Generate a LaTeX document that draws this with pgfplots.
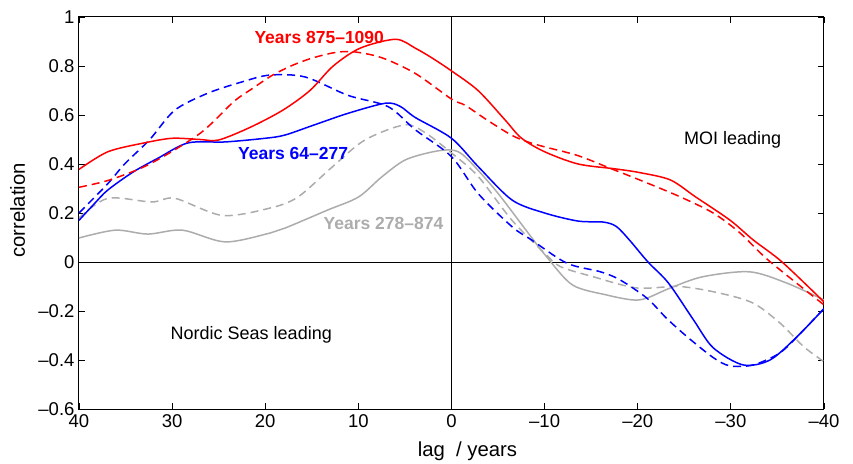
\documentclass[border=0pt]{standalone}
\usepackage{fontspec}
\setmainfont{Liberation Sans}
\usepackage{pgfplots}
\pgfplotsset{compat=1.18}
\definecolor{gr}{RGB}{172,172,172}
\begin{document}
\begin{tikzpicture}[font=\fontsize{18}{22}\selectfont]
\path[use as bounding box] (-79pt,-54pt) rectangle (774pt,409pt);
\begin{axis}[at={(0,0)}, anchor=south west, scale only axis,
  width=745pt, height=392pt,
  xmin=-40, xmax=40, ymin=-0.6, ymax=1, x dir=reverse,
  xtick={-40,-30,-20,-10,0,10,20,30,40},
  xticklabels={\textendash40,\textendash30,\textendash20,\textendash10,0,10,20,30,40},
  ytick={-0.6,-0.4,-0.2,0,0.2,0.4,0.6,0.8,1},
  yticklabels={\textendash0.6,\textendash0.4,\textendash0.2,0,0.2,0.4,0.6,0.8,1},
  tick label style={font=\fontsize{18.5}{22}\selectfont},
  tick align=inside, major tick length=6pt,
  tick style={black, line width=0.8pt},
  axis line style={line width=1pt},
  xticklabel style={yshift=-2pt},
  yticklabel style={xshift=-1pt},
  every axis plot/.append style={line width=1.5pt, smooth, tension=0.5},
  sol/.style={solid},
  das/.style={dash pattern=on 8pt off 5pt},
]
\addplot[black, line width=0.8pt, sharp plot] coordinates {(40,0) (-40,0)};
\addplot[black, line width=0.8pt, sharp plot] coordinates {(0,-0.6) (0,1)};
% grey solid
\addplot[gr, sol] coordinates {(40,0.098) (36.1,0.13) (32.6,0.114) (28.9,0.13) (24.3,0.082) (19.5,0.118) (17.9,0.138) (13.3,0.212) (10,0.265) (7.5,0.347) (5,0.416) (2.1,0.449) (0,0.457) (-1.45,0.43) (-4.7,0.294) (-8,0.13) (-10.2,0.022) (-13,-0.094) (-16.7,-0.135) (-19.5,-0.155) (-21,-0.147) (-23.5,-0.106) (-27,-0.06) (-32,-0.04) (-36,-0.086) (-40,-0.155)};
% grey dashed
\addplot[gr, das] coordinates {(40,0.18) (36.9,0.26) (32.2,0.245) (29.7,0.26) (24.6,0.19) (19.5,0.22) (16.5,0.265) (12.8,0.388) (9.3,0.498) (5,0.56) (2.8,0.527) (0,0.445) (-2.85,0.35) (-6.5,0.17) (-10,0.036) (-11.7,-0.019) (-15.2,-0.06) (-19.9,-0.106) (-24.5,-0.10) (-28.8,-0.127) (-32.4,-0.168) (-35.3,-0.25) (-37.8,-0.345) (-40,-0.407)};
% blue solid
\addplot[blue, sol] coordinates {(40,0.17) (38.3,0.24) (36.9,0.294) (34.2,0.367) (31.5,0.424) (28.3,0.486) (24.3,0.49) (20,0.505) (17.9,0.518) (14.7,0.56) (11.1,0.607) (7.1,0.648) (5.5,0.635) (3.9,0.59) (0,0.505) (-2.85,0.39) (-6.5,0.253) (-10,0.20) (-13.6,0.167) (-16.3,0.163) (-17.7,0.145) (-19.1,0.09) (-21.1,0.0) (-23.3,-0.086) (-26,-0.237) (-28.1,-0.35) (-31.3,-0.42) (-34.2,-0.40) (-37.1,-0.305) (-40,-0.19)};
% blue dashed
\addplot[blue, das] coordinates {(40,0.20) (36.9,0.32) (35.1,0.40) (32.4,0.50) (29.7,0.62) (26.1,0.69) (22.5,0.735) (19.5,0.763) (15.7,0.755) (11.1,0.68) (6.8,0.634) (3.9,0.54) (0,0.43) (-2.85,0.28) (-6.5,0.144) (-8.6,0.09) (-12.4,-0.005) (-16,-0.04) (-18.1,-0.073) (-21,-0.148) (-23.1,-0.23) (-25.3,-0.305) (-28.1,-0.39) (-29.9,-0.424) (-32.4,-0.42) (-35.3,-0.37) (-37.8,-0.278) (-40,-0.19)};
% red solid
\addplot[red, sol] coordinates {(40,0.378) (36.9,0.45) (33,0.486) (30,0.505) (27,0.50) (25,0.498) (21.6,0.55) (18.1,0.62) (15.2,0.70) (12.7,0.80) (9.8,0.873) (6.0,0.909) (3.9,0.873) (2.1,0.833) (0,0.78) (-2.85,0.70) (-5.75,0.58) (-7.5,0.506) (-10,0.45) (-13.6,0.40) (-17.6,0.38) (-20.2,0.365) (-23.5,0.335) (-26.2,0.266) (-29.9,0.171) (-32.4,0.09) (-35.5,0.0) (-40,-0.163)};
% red dashed
\addplot[red, das] coordinates {(40,0.305) (36.7,0.335) (32.4,0.40) (27,0.525) (23.4,0.654) (21.3,0.71) (19.2,0.763) (17,0.804) (14.9,0.833) (12.5,0.855) (10.5,0.858) (7.5,0.834) (3.9,0.77) (0,0.665) (-1.45,0.64) (-3.8,0.58) (-6.43,0.518) (-8.2,0.49) (-10,0.47) (-13.6,0.434) (-17.2,0.38) (-20.2,0.335) (-24.5,0.267) (-28.1,0.2) (-31,0.118) (-34,0.008) (-40,-0.175)};
\node[anchor=base, text=red, font=\bfseries\fontsize{17.5}{21}\selectfont] at (axis cs:14.2,0.893) {Years 875\textendash1090};
\node[anchor=base, text=blue, font=\bfseries\fontsize{17.5}{21}\selectfont] at (axis cs:17,0.419) {Years 64\textendash277};
\node[anchor=base, text=gr, font=\bfseries\fontsize{17.5}{21}\selectfont] at (axis cs:7.3,0.131) {Years 278\textendash874};
\node[anchor=base] at (axis cs:-30.2,0.48) {MOI leading};
\node[anchor=base] at (axis cs:21.5,-0.318) {Nordic Seas leading};
\end{axis}
\node[anchor=base, font=\fontsize{20.3}{24}\selectfont] at (388.5pt,-47.7pt) {lag\ \ / years};
\node[anchor=base, rotate=90, font=\fontsize{20.3}{24}\selectfont] at (-54pt,198.5pt) {correlation};
\end{tikzpicture}
\end{document}
